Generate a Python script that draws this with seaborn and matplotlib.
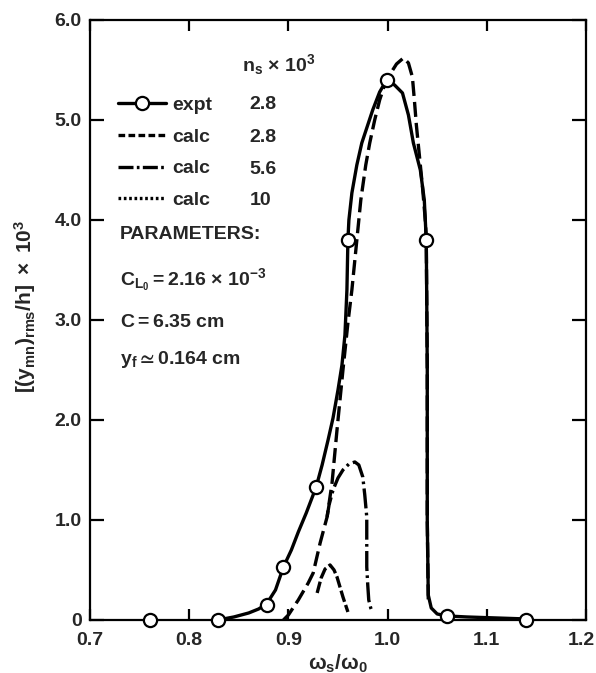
import matplotlib
matplotlib.use("Agg")
import matplotlib.pyplot as plt
import matplotlib.transforms as mtransforms
import seaborn as sns
from matplotlib.lines import Line2D

# Measured response amplitude (open circles)
expt_x = [0.760, 0.829, 0.878, 0.895, 0.928, 0.960, 0.999, 1.039, 1.060, 1.140]
expt_y = [0.00, 0.00, 0.15, 0.53, 1.33, 3.80, 5.40, 3.80, 0.04, 0.00]

# Faired curve through the measurements
expt_curve_x = [0.829, 0.845, 0.860, 0.870, 0.878, 0.887, 0.895, 0.903, 0.910, 0.918,
                0.928, 0.934, 0.940, 0.945, 0.950, 0.954, 0.957, 0.959, 0.960, 0.961,
                0.964, 0.969, 0.974, 0.980, 0.985, 0.992, 0.999, 1.007, 1.015, 1.021,
                1.026, 1.033, 1.037, 1.039, 1.040, 1.040, 1.041, 1.044, 1.050, 1.060,
                1.080, 1.110, 1.140]
expt_curve_y = [0.00, 0.03, 0.07, 0.11, 0.16, 0.30, 0.53, 0.70, 0.88, 1.07,
                1.33, 1.55, 1.80, 2.02, 2.30, 2.55, 2.85, 3.30, 3.80, 4.00,
                4.27, 4.55, 4.77, 4.95, 5.10, 5.28, 5.40, 5.35, 5.27, 5.05,
                4.77, 4.50, 4.20, 3.80, 2.50, 1.00, 0.25, 0.12, 0.06, 0.04,
                0.03, 0.02, 0.01]

# Calculated response, n_s = 2.8e-3
calc28_x = [0.895, 0.900, 0.910, 0.920, 0.925, 0.932, 0.939, 0.944, 0.949, 0.955,
            0.960, 0.964, 0.969, 0.973, 0.978, 0.982, 0.987, 0.992, 0.997, 1.002,
            1.009, 1.016, 1.021, 1.025, 1.027, 1.029, 1.032, 1.035, 1.038, 1.039,
            1.040, 1.040, 1.041]
calc28_y = [0.00, 0.05, 0.20, 0.37, 0.47, 0.77, 1.03, 1.37, 1.90, 2.50,
            2.97, 3.30, 3.80, 4.20, 4.55, 4.77, 5.00, 5.20, 5.35, 5.45,
            5.56, 5.62, 5.57, 5.43, 5.20, 4.95, 4.65, 4.35, 4.00, 3.80,
            2.50, 1.00, 0.20]

# Calculated response, n_s = 5.6e-3
calc56_x = [0.939, 0.941, 0.945, 0.950, 0.955, 0.961, 0.967, 0.971, 0.975, 0.977,
            0.979, 0.979, 0.979, 0.980, 0.981, 0.983, 0.985]
calc56_y = [1.03, 1.15, 1.30, 1.42, 1.50, 1.56, 1.58, 1.55, 1.43, 1.25,
            1.03, 0.75, 0.53, 0.35, 0.20, 0.12, 0.07]

# Calculated response, n_s = 10e-3
calc10_x = [0.929, 0.933, 0.937, 0.942, 0.946, 0.949, 0.952, 0.955, 0.958, 0.960]
calc10_y = [0.27, 0.42, 0.51, 0.55, 0.50, 0.43, 0.33, 0.23, 0.14, 0.08]

legend_kinds = ["expt", "calc", "calc", "calc"]
legend_ns = ["2.8", "2.8", "5.6", "10"]

x_ticks = [0.7, 0.8, 0.9, 1.0, 1.1, 1.2]
x_tick_labels = ["0.7", "0.8", "0.9", "1.0", "1.1", "1.2"]
y_ticks = [0, 1, 2, 3, 4, 5, 6]
y_tick_labels = ["0", "1.0", "2.0", "3.0", "4.0", "5.0", "6.0"]

sns.set_style("ticks")
plt.rcParams["font.family"] = ["Liberation Sans", "DejaVu Sans"]
plt.rcParams["font.weight"] = "bold"
plt.rcParams["mathtext.fontset"] = "custom"
plt.rcParams["mathtext.rm"] = "Liberation Sans:bold"
plt.rcParams["mathtext.it"] = "Liberation Sans:bold"
plt.rcParams["mathtext.bf"] = "Liberation Sans:bold"
plt.rcParams["mathtext.sf"] = "Liberation Sans:bold"
plt.rcParams["mathtext.default"] = "rm"
plt.rcParams["mathtext.fallback"] = "stix"

fig = plt.figure(figsize=(5.96, 6.73), dpi=100)
ax = fig.add_axes([0.1510, 0.0788, 0.8322, 0.8915])

lw = 2.4
sns.lineplot(x=expt_curve_x, y=expt_curve_y, sort=False, estimator=None,
             color="black", linewidth=lw, ax=ax)
sns.lineplot(x=calc28_x, y=calc28_y, sort=False, estimator=None,
             color="black", linewidth=lw, linestyle=(0, (4.5, 1.8)), ax=ax)
sns.lineplot(x=calc56_x, y=calc56_y, sort=False, estimator=None,
             color="black", linewidth=lw, linestyle=(0, (6, 1.3, 0.8, 1.3)), ax=ax)
sns.lineplot(x=calc10_x, y=calc10_y, sort=False, estimator=None,
             color="black", linewidth=lw, linestyle=(0, (3.5, 1.0)), ax=ax)
sns.scatterplot(x=expt_x, y=expt_y, s=90, color="white", edgecolor="black",
                linewidth=1.6, zorder=5, clip_on=False, ax=ax)

ax.set_xlim(0.7, 1.2)
ax.set_ylim(0, 6)
ax.set_xticks(x_ticks)
ax.set_xticklabels(x_tick_labels)
ax.set_yticks(y_ticks)
ax.set_yticklabels(y_tick_labels)
for s in ax.spines.values():
    s.set_linewidth(1.6)
    s.set_color("black")
ax.tick_params(axis="both", direction="in", width=1.6, color="black",
               labelsize=14, top=True, right=True)
ax.tick_params(axis="y", length=10, pad=6)
ax.tick_params(axis="x", length=8, pad=9)
for lab in ax.get_xticklabels() + ax.get_yticklabels():
    lab.set_fontweight("bold")
# keep the last x label inside the figure edge
last = ax.get_xticklabels()[-1]
last.set_transform(last.get_transform() +
                   mtransforms.ScaledTranslation(-5 / 100, 0, fig.dpi_scale_trans))

ax.set_xlabel(r"$\omega_s/\omega_0$", fontsize=15, labelpad=2)
ax.set_ylabel(r"$[(y_{mn})_{rms}/h]\ \times\ 10^3$", fontsize=15)
ax.yaxis.set_label_coords(-0.104, 0.523)

# Legend: line keys with run type, ns values in a column to the right
styles = [dict(linestyle="-", marker="o", markersize=9.5, markerfacecolor="white",
               markeredgecolor="black", markeredgewidth=1.6),
          dict(linestyle=(0, (2.0, 1.0))),
          dict(linestyle=(0, (4.5, 1.0, 0.8, 1.0))),
          dict(linestyle=(0, (0.8, 0.8)))]
handles = [Line2D([], [], color="black", linewidth=lw, **st) for st in styles]
leg = ax.legend(handles, legend_kinds, loc="upper left", bbox_to_anchor=(0.056, 0.873),
                frameon=False, fontsize=14, handlelength=2.5, handletextpad=0.3,
                labelspacing=0.73, borderpad=0, borderaxespad=0, numpoints=1)
for t in leg.get_texts():
    t.set_fontweight("bold")

ax.text(0.853, 5.55, r"$n_s$ × $10^3$", fontsize=14, va="center", ha="left")
for yv, val in zip([5.15, 4.82, 4.50, 4.19], legend_ns):
    ax.text(0.861, yv, val, fontsize=14, fontweight="bold", va="center", ha="left")

ax.text(0.730, 3.85, "PARAMETERS:", fontsize=14, fontweight="bold", va="center")
ax.text(0.730, 3.40, r"$C_{L_0} = 2.16$ × $10^{-3}$", fontsize=14, va="center")
ax.text(0.730, 2.97, r"$C = 6.35$ cm", fontsize=14, va="center")
ax.text(0.730, 2.60, r"$y_f \simeq 0.164$ cm", fontsize=14, va="center")

fig.savefig("out.png", dpi=100)
